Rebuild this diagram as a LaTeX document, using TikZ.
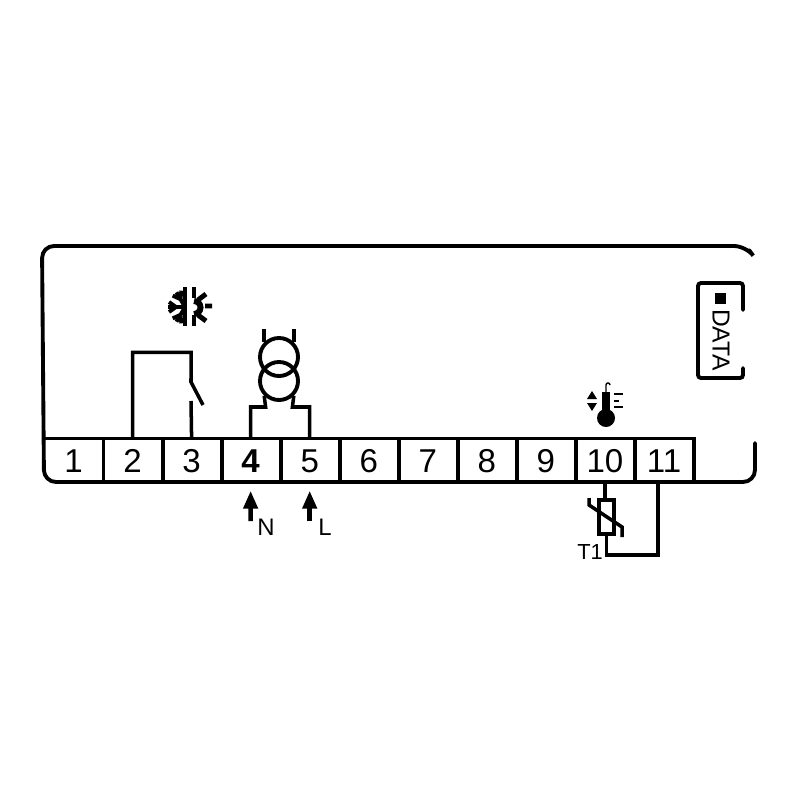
\documentclass[tikz,border=0pt]{standalone}
\usepackage{fontspec}
\setmainfont{Liberation Sans}
\usetikzlibrary{arrows.meta}

\begin{document}
\begin{tikzpicture}[x=0.01cm,y=-0.01cm]

\tikzset{frame/.style = {draw,line width=1.1pt,line cap=round}}
\tikzset{wire/.style = {draw,line width=1pt}}
\tikzset{terminal/.style = {minimum width=0.59cm,minimum height=0.43cm,inner sep=0,text height=0.24cm,text depth=0pt,font=\fontsize{9.4}{10}\selectfont}}
\tikzset{coil/.style = {shape=circle,draw,line width=1.1pt,minimum size=0.38cm,inner sep=0}}
\tikzset{tag/.style = {inner sep=0,font=\fontsize{6.8}{7}\selectfont}}
\tikzset{feed/.style = {draw,line width=1.3pt,shorten >=8*0.01cm,-{Triangle[length=0.18cm,width=0.14cm]}}}

\useasboundingbox (0,0) rectangle (800,800);
%housing
\draw[frame,rounded corners=0.12cm] (749,250) -- (746,246) -- (42,246) -- (44,482) -- (755,482) -- (755,443);
%terminals
\foreach \i in {1,...,11}
  \node[terminal] (t\i) at ({73.5+59.05*(\i-1)},460.5) {\ifnum\i=4 \bfseries\fi\i};
\draw[wire] (t1.north west) -- (t11.north east) -- (t11.south east);
\foreach \i in {1,...,10}
  \draw[wire] (t\i.north east) -- (t\i.south east);
%relay
\coordinate (pivot) at (191,382);
\coordinate (blade) at (203,405);
\coordinate (contact) at (191,401);
\draw[wire] (t2.north) -- ++(0,-86) -- ++(58.5,0) -- (pivot) -- (blade);
\draw[wire] (t3.north) -- (contact);
%cooling symbol
\draw[wire] (185,287) -- (185,326);
\begin{scope}
\clip (160,280) rectangle (185,332);
\foreach \a in {120,180,240}
  \draw[shift={(185,307)},rotate=\a,line width=1.1pt] (0,0) -- (17,0) (9,0) -- (16,5) (9,0) -- (16,-5);
\end{scope}
\draw[wire] (194,287) -- (194,298) (194,315) -- (194,326);
\draw[line width=1.7pt] (194,301) arc[start angle=-90,end angle=90,radius=6.5];
\draw[line width=1.4pt] (198,300) -- (206,294) (205,306) -- (212,306) (198,315) -- (206,321);
%transformer
\node[coil] (coilA) at (279,357) {};
\node[coil] (coilB) at (279,381) {};
\coordinate (leadN) at (265.6,407);
\coordinate (leadL) at (292.4,407);
\draw[wire] (coilA.north west) -- ++(0,-13);
\draw[wire] (coilA.north east) -- ++(0,-13);
\draw[wire] (t4.north) |- (leadN) -- (coilB.south west);
\draw[wire] (t5.north) |- (leadL) -- (coilB.south east);
%supply
\coordinate (inN) at (250.6,521);
\coordinate (inL) at (309.7,521);
\draw[feed] (inN) -- (t4.south);
\draw[feed] (inL) -- (t5.south);
\node[tag] (labN) at (266,527) {N};
\node[tag] (labL) at (325,527) {L};
%probe
\node[draw,line width=1pt,minimum width=0.15cm,minimum height=0.34cm,inner sep=0] (probe) at (606.5,517) {};
\coordinate (back) at (658,555);
\draw[wire] (t10.south) -- (t10.south |- probe.north);
\draw[wire] (probe.south) |- (back) -- (back |- t11.south);
\draw[wire] (589,498) -- (589,505) -- (622,527) -- (622,537);
\node[tag,font=\fontsize{6.2}{7}\selectfont] (labT) at (590,552) {T1};
%thermometer
\node[shape=circle,fill,minimum size=0.18cm,inner sep=0] (bulb) at (606,418) {};
\draw[line width=2.2pt] (bulb.center) -- (606,392);
\draw[line width=0.4pt] (606,392) -- (606,385) arc[start angle=180,end angle=360,radius=2];
\fill (587,399) -- (592,391) -- (597,399) -- cycle;
\fill (587,403) -- (592,411) -- (597,403) -- cycle;
\draw[line width=0.4pt] (614,394) -- (623,394);
\draw[line width=0.6pt] (614,401) -- (619,401);
\draw[line width=0.6pt] (614,407) -- (623,407);
%data port
\coordinate (portA) at (743,310);
\coordinate (portB) at (743,368);
\draw[frame,rounded corners=0.03cm] (portA) -- (743,283) -- (698,283) -- (698,378) -- (743,378) -- (portB);
\node[fill,minimum size=0.11cm,inner sep=0] (led) at (720,298) {};
\node[tag,rotate=-90,font=\fontsize{7}{8}\selectfont] (labD) at (721,340) {DATA};

\end{tikzpicture}
\end{document}
